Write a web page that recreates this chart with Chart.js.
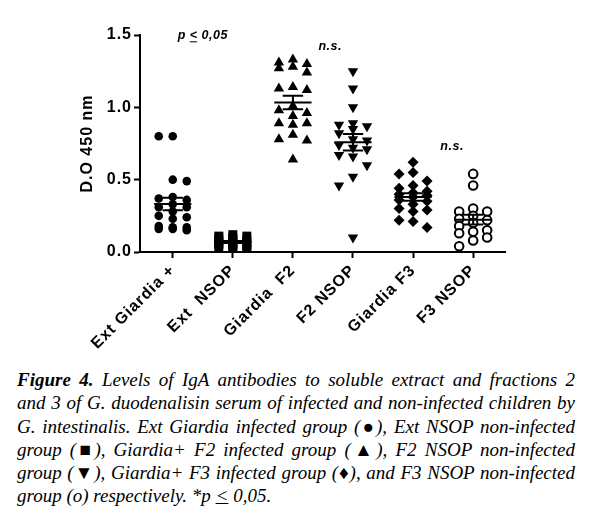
<!DOCTYPE html>
<html>
<head>
<meta charset="utf-8">
<script src="https://cdn.jsdelivr.net/npm/chart.js@4.4.1/dist/chart.umd.min.js"></script>
<style>
  html, body { margin: 0; padding: 0; background: #fff; }
  #wrap { position: absolute; left: 0; top: 0; width: 594px; height: 360px; }
  #cap { position: absolute; left: 17px; top: 368px; width: 558px;
         font-family: "Liberation Serif", "Times New Roman", serif; font-style: italic;
         font-size: 19px; line-height: 23.3px; color: #000; }
  #cap .ln { display: block; white-space: nowrap; text-align: justify; text-align-last: justify; }
  #cap .ln.last { text-align-last: left; }
</style>
</head>
<body>
<div id="wrap"><canvas id="c" width="594" height="360" style="width:594px;height:360px"></canvas></div>
<div id="cap">
  <span class="ln"><b>Figure 4.</b> Levels of IgA antibodies to soluble extract and fractions 2</span>
  <span class="ln">and 3 of G. duodenalisin serum of infected and non-infected children by</span>
  <span class="ln">G. intestinalis. Ext Giardia infected group (●), Ext NSOP non-infected</span>
  <span class="ln">group (■), Giardia+ F2 infected group (▲), F2 NSOP non-infected</span>
  <span class="ln">group (▼), Giardia+ F3 infected group (♦), and F3 NSOP non-infected</span>
  <span class="ln last">group (o) respectively. *p <u>&lt;</u> 0,05.</span>
</div>
<script>
// ---------- data ----------
const categories = ['Ext Giardia +', 'Ext  NSOP', 'Giardia  F2', 'F2 NSOP', 'Giardia F3', 'F3 NSOP'];
const extGiardia = [0.80, 0.80, 0.50, 0.49, 0.38, 0.37, 0.36, 0.33, 0.31, 0.31, 0.28, 0.25, 0.24, 0.23, 0.18, 0.17, 0.17, 0.16, 0.16, 0.15];
const extNSOP    = [0.12, 0.11, 0.11, 0.10, 0.10, 0.09, 0.09, 0.08, 0.07, 0.07, 0.06, 0.06, 0.05, 0.05, 0.05, 0.04, 0.04, 0.03, 0.03, 0.02];
const giardiaF2  = [1.33, 1.31, 1.30, 1.28, 1.27, 1.24, 1.14, 1.13, 1.12, 1.01, 0.98, 0.96, 0.94, 0.89, 0.89, 0.88, 0.81, 0.78, 0.77, 0.64];
const f2NSOP     = [1.25, 1.13, 1.00, 0.89, 0.88, 0.87, 0.85, 0.82, 0.78, 0.77, 0.74, 0.72, 0.71, 0.67, 0.66, 0.60, 0.52, 0.46, 0.10];
const giardiaF3  = [0.62, 0.55, 0.54, 0.49, 0.46, 0.44, 0.42, 0.41, 0.40, 0.39, 0.38, 0.36, 0.35, 0.33, 0.30, 0.29, 0.28, 0.22, 0.21, 0.17];
const f3NSOP     = [0.54, 0.46, 0.30, 0.28, 0.28, 0.25, 0.23, 0.22, 0.20, 0.18, 0.15, 0.14, 0.13, 0.10, 0.08, 0.04];
const yTickValues = [0, 0.5, 1.0, 1.5];
const yTickLabels = ['0.0', '0.5', '1.0', '1.5'];
const yTitle = 'D.O 450 nm';
const sigLabel = ['p', '<', '0,05'];
const nsLabel = 'n.s.';

const groups = [extGiardia, extNSOP, giardiaF2, f2NSOP, giardiaF3, f3NSOP];

// ---------- styling ----------
const AX = "'Liberation Sans', Arial, sans-serif";
const markerStyles = [
  { pointStyle: 'circle',   radius: 4.3, rotation: 0,   bg: '#000', bw: 0 },
  { pointStyle: 'rect',     radius: 6.3, rotation: 0,   bg: '#000', bw: 0 },
  { pointStyle: 'triangle', radius: 6.0, rotation: 0,   bg: '#000', bw: 0 },
  { pointStyle: 'triangle', radius: 6.0, rotation: 180, bg: '#000', bw: 0 },
  { pointStyle: 'rectRot',  radius: 5.5, rotation: 0,   bg: '#000', bw: 0 },
  { pointStyle: 'circle',   radius: 4.3, rotation: 0,   bg: '#fff', bw: 2 }
];

function mean(a) { return a.reduce((s, v) => s + v, 0) / a.length; }
function sem(a) {
  const m = mean(a);
  const sd = Math.sqrt(a.reduce((s, v) => s + (v - m) * (v - m), 0) / (a.length - 1));
  return sd / Math.sqrt(a.length);
}

const MEAN_HALF = 0.31, CAP_HALF = 0.17;

const datasets = [];
groups.forEach((vals, gi) => {
  const st = markerStyles[gi];
  datasets.push({
    type: 'scatter',
    data: vals.map(v => ({ x: gi, y: v })),
    pointStyle: st.pointStyle,
    pointRadius: st.radius,
    pointRotation: st.rotation,
    pointBackgroundColor: st.bg,
    pointBorderColor: '#000',
    pointBorderWidth: st.bw,
    showLine: false,
    order: 2
  });
});
groups.forEach((vals, gi) => {
  const m = mean(vals), s = sem(vals);
  datasets.push({
    type: 'line',
    data: [
      { x: gi - MEAN_HALF, y: m }, { x: gi + MEAN_HALF, y: m }, { x: gi, y: null },
      { x: gi, y: m - s }, { x: gi, y: m + s }, { x: gi, y: null },
      { x: gi - CAP_HALF, y: m + s }, { x: gi + CAP_HALF, y: m + s }, { x: gi, y: null },
      { x: gi - CAP_HALF, y: m - s }, { x: gi + CAP_HALF, y: m - s }
    ],
    borderColor: '#000',
    borderWidth: 2,
    pointRadius: 0,
    spanGaps: false,
    fill: false,
    order: 0
  });
});

const spacingPlugin = {
  id: 'spacing',
  beforeLayout(chart) { chart.ctx.letterSpacing = '1px'; },
  beforeDraw(chart) { chart.ctx.letterSpacing = '1px'; }
};

const annotationPlugin = {
  id: 'annot',
  afterDraw(chart) {
    const ctx = chart.ctx, xs = chart.scales.x, ys = chart.scales.y;
    ctx.save();
    ctx.letterSpacing = '0.5px';
    ctx.fillStyle = '#000';
    ctx.strokeStyle = '#000';
    ctx.textBaseline = 'alphabetic';
    ctx.font = "italic bold 12.5px " + AX;
    // significance label
    const gap = 4;
    const w = sigLabel.map(t => ctx.measureText(t).width);
    const total = w[0] + w[1] + w[2] + 2 * gap;
    let x = xs.getPixelForValue(0.5) - total / 2;
    const y = ys.getPixelForValue(1.47);
    ctx.textAlign = 'left';
    ctx.fillText(sigLabel[0], x, y); x += w[0] + gap;
    ctx.fillText(sigLabel[1], x, y);
    ctx.lineWidth = 1;
    ctx.beginPath(); ctx.moveTo(x, y + 2.5); ctx.lineTo(x + w[1] - 0.5, y + 2.5); ctx.stroke();
    x += w[1] + gap;
    ctx.fillText(sigLabel[2], x, y);
    // n.s. labels
    ctx.textAlign = 'center';
    ctx.fillText(nsLabel, xs.getPixelForValue(2.62), ys.getPixelForValue(1.395));
    ctx.fillText(nsLabel, xs.getPixelForValue(4.65), ys.getPixelForValue(0.705));
    ctx.restore();
  }
};

const chart = new Chart(document.getElementById('c'), {
  type: 'scatter',
  data: { datasets },
  options: {
    responsive: false,
    animation: false,
    events: [],
    layout: { padding: { left: 75, right: 89, top: 35, bottom: 0 } },
    plugins: { legend: { display: false }, tooltip: { enabled: false } },
    scales: {
      x: {
        type: 'linear',
        min: -0.545,
        max: 5.53,
        afterFit(s) { s.height = 108; },
        border: { display: true, color: '#000', width: 2 },
        grid: { display: true, drawOnChartArea: false, drawTicks: true, tickLength: 6, tickWidth: 2, tickColor: '#000', color: '#000' },
        ticks: {
          stepSize: 1, includeBounds: false, autoSkip: false,
          minRotation: 45, maxRotation: 45, padding: 3,
          color: '#000', font: { family: AX, size: 16, weight: 'bold' },
          callback(v) { const i = Math.round(v); return Math.abs(v - i) < 1e-6 && categories[i] !== undefined ? categories[i] : ''; }
        },
        afterBuildTicks(s) { s.ticks = categories.map((c, i) => ({ value: i })); }
      },
      y: {
        min: 0, max: 1.5,
        afterFit(s) { s.width = 65; },
        afterBuildTicks(s) { s.ticks = yTickValues.map(v => ({ value: v })); },
        border: { display: true, color: '#000', width: 2 },
        grid: { display: true, drawOnChartArea: false, drawTicks: true, tickLength: 6, tickWidth: 2, tickColor: '#000', color: '#000' },
        ticks: {
          padding: 2, color: '#000', font: { family: AX, size: 16, weight: 'bold' },
          callback(v) { const i = yTickValues.findIndex(t => Math.abs(t - v) < 1e-9); return i >= 0 ? yTickLabels[i] : ''; }
        },
        title: { display: true, text: yTitle, color: '#000', font: { family: AX, size: 16, weight: 'bold' }, padding: { top: 3, bottom: 4 } }
      }
    }
  },
  plugins: [spacingPlugin, annotationPlugin]
});

// ---------- swarm layout (deterministic, from values) ----------
(function swarm() {
  const xs = chart.scales.x, ys = chart.scales.y;
  const pxPerUnit = Math.abs(xs.getPixelForValue(1) - xs.getPixelForValue(0));
  const SLOT = 14, ROW = 9;
  groups.forEach((vals, gi) => {
    const order = vals.map((v, i) => i).sort((a, b) => vals[b] - vals[a]);
    const placed = [];
    const off = new Array(vals.length).fill(0);
    let flip = false;
    order.forEach(i => {
      const py = ys.getPixelForValue(vals[i]);
      const cands = flip ? [0, 1, -1] : [0, -1, 1];
      let best = 0, bestD = -1;
      for (const s of cands) {
        let md = Infinity;
        placed.forEach(p => { if (p.s === s) md = Math.min(md, Math.abs(p.py - py)); });
        if (md >= ROW) { best = s; break; }
        if (md > bestD) { bestD = md; best = s; }
      }
      if (best !== 0) flip = !flip;
      placed.push({ s: best, py });
      off[i] = best * SLOT / pxPerUnit;
    });
    chart.data.datasets[gi].data = vals.map((v, i) => ({ x: gi + off[i], y: v }));
  });
  chart.update('none');
})();
</script>
</body>
</html>
